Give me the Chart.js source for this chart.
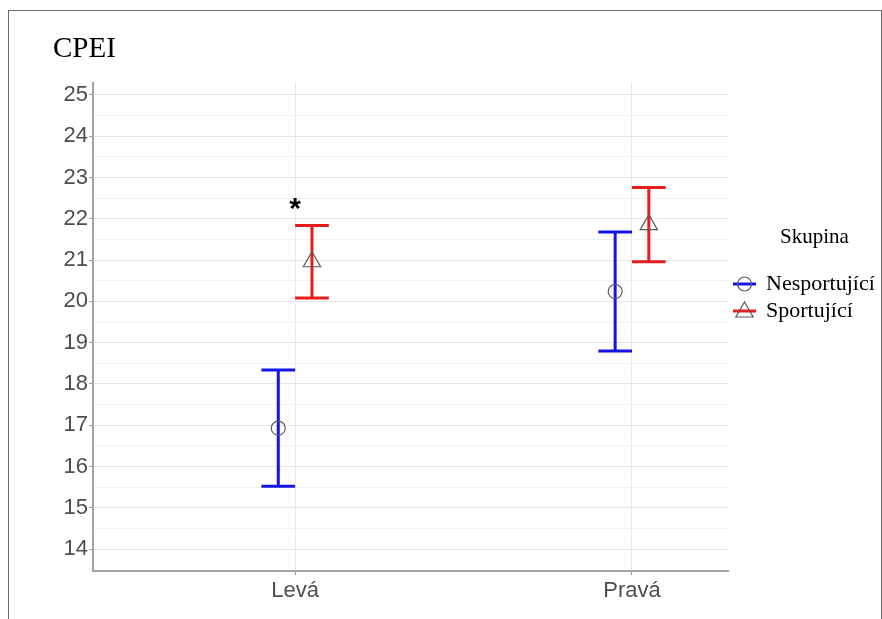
<!DOCTYPE html>
<html>
<head>
<meta charset="utf-8">
<script src="https://cdn.jsdelivr.net/npm/chart.js@4/dist/chart.umd.min.js"></script>
<style>
  html, body { margin: 0; padding: 0; background: #ffffff; }
  #wrap { position: relative; width: 882px; height: 619px; overflow: hidden; }
  #c { position: absolute; left: 0; top: 0; }
  #frame { position: absolute; left: 8px; top: 10px; width: 872px; height: 700px;
           border: 1px solid #6a6a6a; pointer-events: none; box-sizing: content-box; }
</style>
</head>
<body>
<div id="wrap">
  <canvas id="c" width="882" height="619"></canvas>
  <div id="frame"></div>
</div>
<script>
// ---- data ----
const chartTitle = 'CPEI';
const legendTitle = 'Skupina';
const categories = ['Levá', 'Pravá'];
const groups = ['Nesportující', 'Sportující'];
const nesMean = [16.93, 20.24];
const nesLow  = [15.52, 18.80];
const nesHigh = [18.34, 21.68];
const sporMean = [20.96, 21.86];
const sporLow  = [20.08, 20.96];
const sporHigh = [21.84, 22.76];
const starCategory = ['Levá'];
const starValue = [22.35];
const yTickLabels = ['14','15','16','17','18','19','20','21','22','23','24','25'];

// ---- styling ----
const DODGE = 0.05, CAP = 0.05;
const blue = '#1414e8', red = '#e81c1c', pointGray = '#5a5a5a';
const tickFont = { family: 'Liberation Sans, Arial, sans-serif', size: 22 };

const series = [
  { name: groups[0], mean: nesMean, low: nesLow, high: nesHigh, color: blue, off: -DODGE, style: 'circle', r: 7 },
  { name: groups[1], mean: sporMean, low: sporLow, high: sporHigh, color: red, off: DODGE, style: 'triangle', r: 10 }
];

const datasets = series.map(s => ({
  label: s.name,
  data: categories.map((c, i) => ({ x: i + 1 + s.off, y: s.mean[i] })),
  pointStyle: s.style,
  pointRadius: s.r,
  pointHoverRadius: s.r,
  pointBorderWidth: 1.2,
  borderColor: pointGray,
  backgroundColor: 'rgba(0,0,0,0)',
  showLine: false
}));

const errorBars = {
  id: 'errorBars',
  beforeDatasetsDraw(chart) {
    const { ctx, scales: { x, y } } = chart;
    ctx.save();
    ctx.lineWidth = 3;
    ctx.lineCap = 'butt';
    series.forEach(s => {
      ctx.strokeStyle = s.color;
      categories.forEach((c, i) => {
        const cx = i + 1 + s.off;
        const px = x.getPixelForValue(cx);
        const pl = x.getPixelForValue(cx - CAP), pr = x.getPixelForValue(cx + CAP);
        const yl = y.getPixelForValue(s.low[i]), yh = y.getPixelForValue(s.high[i]);
        ctx.beginPath();
        ctx.moveTo(px, yl); ctx.lineTo(px, yh);
        ctx.moveTo(pl, yl); ctx.lineTo(pr, yl);
        ctx.moveTo(pl, yh); ctx.lineTo(pr, yh);
        ctx.stroke();
      });
    });
    ctx.restore();
  }
};

const decorations = {
  id: 'decorations',
  afterDraw(chart) {
    const { ctx, scales: { x, y } } = chart;
    ctx.save();
    // title
    ctx.fillStyle = '#000';
    ctx.font = '29px "Liberation Serif", "Times New Roman", serif';
    ctx.textAlign = 'left';
    ctx.textBaseline = 'alphabetic';
    ctx.fillText(chartTitle, 53, 57);
    // significance star
    ctx.font = 'bold 30px "Liberation Sans", Arial, sans-serif';
    ctx.textAlign = 'center';
    starCategory.forEach((c, k) => {
      const m = ctx.measureText('*');
      const px = x.getPixelForValue(categories.indexOf(c) + 1);
      const py = y.getPixelForValue(starValue[k]);
      ctx.fillText('*', px, py + (m.actualBoundingBoxAscent - m.actualBoundingBoxDescent) / 2);
    });
    // legend
    ctx.font = '21px "Liberation Serif", "Times New Roman", serif';
    ctx.textAlign = 'left';
    ctx.textBaseline = 'middle';
    ctx.fillText(legendTitle, 780, 237);
    const rows = [284, 311];
    series.forEach((s, k) => {
      const cy = rows[k];
      ctx.strokeStyle = s.color;
      ctx.lineWidth = 3;
      ctx.beginPath(); ctx.moveTo(733, cy); ctx.lineTo(756, cy); ctx.stroke();
      ctx.strokeStyle = pointGray;
      ctx.fillStyle = 'rgba(0,0,0,0)';
      ctx.lineWidth = 1.2;
      Chart.helpers.drawPoint(ctx, { pointStyle: s.style, radius: s.style === 'circle' ? 7 : 10, rotation: 0, borderWidth: 1.2 }, 744.5, cy + (s.style === 'triangle' ? 1 : 0));
      ctx.fillStyle = '#000';
      ctx.font = '22px "Liberation Serif", "Times New Roman", serif';
      ctx.fillText(s.name, 766, cy);
    });
    ctx.restore();
  }
};

new Chart(document.getElementById('c'), {
  type: 'scatter',
  data: { datasets },
  plugins: [errorBars, decorations],
  options: {
    responsive: false,
    animation: false,
    devicePixelRatio: 1,
    layout: { padding: { top: 83, right: 154, left: 0, bottom: 0 } },
    plugins: { legend: { display: false }, tooltip: { enabled: false }, title: { display: false } },
    scales: {
      x: {
        type: 'linear',
        min: 0.4, max: 2.285,
        afterBuildTicks: s => { s.ticks = categories.map((c, i) => ({ value: i + 1 })); },
        afterFit: s => { s.height = 48; },
        ticks: {
          callback: v => categories[Math.round(v) - 1] || '',
          autoSkip: false, maxRotation: 0, color: '#4d4d4d', font: tickFont, padding: 3
        },
        grid: { color: '#e8e8e8', lineWidth: 1, tickLength: 4, tickColor: '#9a9a9a', drawTicks: true },
        border: { display: true, color: '#a3a3a3', width: 2 }
      },
      y: {
        min: 13.47, max: 25.29,
        afterBuildTicks: s => {
          const t = [];
          yTickLabels.forEach(l => {
            const v = Number(l);
            t.push({ value: v });
            if (v + 0.5 < s.max) t.push({ value: v + 0.5 });
          });
          s.ticks = t;
        },
        afterFit: s => { s.width = 93; },
        ticks: {
          callback: v => yTickLabels.includes(String(v)) ? String(v) : '',
          autoSkip: false, color: '#4d4d4d', font: tickFont, padding: 1
        },
        grid: {
          color: c => (c.tick && Number.isInteger(c.tick.value)) ? '#e6e6e6' : '#f1f1f1',
          lineWidth: 1, tickLength: 4,
          tickColor: c => (c.tick && Number.isInteger(c.tick.value)) ? '#9a9a9a' : 'rgba(0,0,0,0)'
        },
        border: { display: true, color: '#a3a3a3', width: 2 }
      }
    }
  }
});
</script>
</body>
</html>
